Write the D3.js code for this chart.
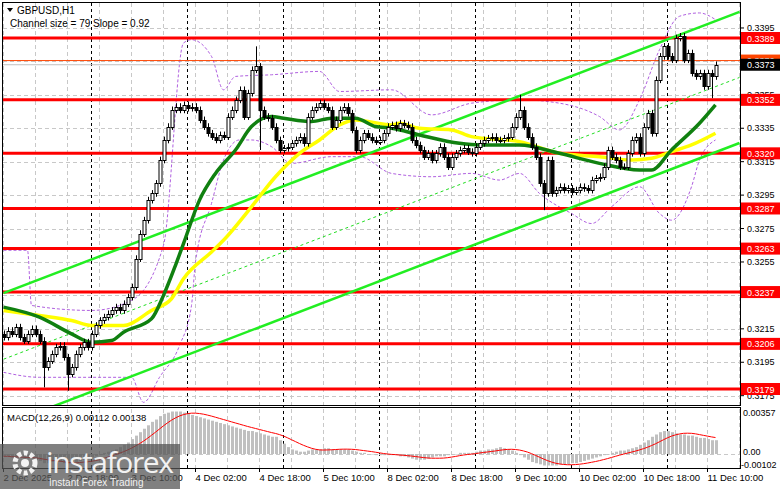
<!DOCTYPE html>
<html><head><meta charset="utf-8">
<script src="https://cdn.jsdelivr.net/npm/d3@7"></script>
<style>body{margin:0;background:#fff}svg{display:block;font-family:"Liberation Sans",Arial,sans-serif}</style>
</head><body>
<script>
// prices in pips: 3373 means 1.3373
var closes = [3210,3214,3212,3216,3210,3208,3212,3215,3212,3208,
 3192,3196,3200,3204,3205,3198,3188,3192,3200,3204,
 3207,3204,3212,3217,3220,3222,3224,3226,3228,3226,
 3230,3234,3240,3257,3272,3280,3292,3296,3302,3316,
 3328,3336,3346,3348,3346,3349,3347,3348,3346,3340,
 3336,3332,3330,3328,3331,3330,3342,3346,3352,3358,
 3342,3356,3370,3372,3346,3342,3341,3336,3328,3322,
 3323,3324,3326,3328,3330,3326,3342,3346,3348,3350,
 3348,3346,3336,3340,3346,3348,3344,3334,3322,3328,
 3332,3330,3328,3327,3328,3332,3336,3337,3335,3338,
 3337,3336,3328,3325,3322,3318,3320,3316,3320,3324,
 3318,3312,3318,3320,3322,3323,3321,3320,3324,3326,
 3328,3329,3330,3328,3328,3329,3330,3336,3342,3346,
 3336,3330,3324,3318,3302,3296,3316,3296,3298,3300,
 3298,3299,3297,3298,3300,3299,3298,3304,3305,3306,
 3312,3322,3318,3316,3312,3312,3320,3328,3330,3320,
 3336,3344,3332,3364,3378,3384,3378,3376,3389,3390,
 3376,3380,3368,3366,3368,3360,3368,3366,3373];
var firstOpen = 3212;
var spikes = {10:{l:3180},16:{l:3178},63:{h:3384},64:{l:3322},129:{h:3355},135:{l:3286},169:{h:3392},177:{l:3353}};

var greenMA = [[0,3228],[9,3222],[17,3212],[22,3207],[27,3208],[30,3213],[37,3221],[40,3235],[43,3253],[45,3266],[49,3292],[53,3308],[58,3322],[62,3336],[67,3342],[70,3341],[77,3339],[82,3341],[88,3341],[93,3336],[97,3335],[104,3331],[114,3326],[119,3325],[129,3325],[139,3320],[149,3314],[159,3310],[162,3310],[167,3322],[174,3338],[178,3349]];
var yellowMA = [[0,3226],[9,3223],[17,3220],[22,3217],[27,3217],[30,3217],[37,3226],[42,3233],[45,3245],[52,3261],[55,3268],[62,3288],[68,3306],[74,3320],[79,3328],[84,3337],[88,3340],[97,3337],[99,3338],[104,3335],[112,3334],[117,3330],[129,3327],[139,3320],[149,3318],[157,3316],[162,3317],[167,3321],[172,3325],[178,3332]];
var bbUpper = [[0,3262],[6,3262],[7,3229],[22,3226],[32,3232],[40,3265],[45,3386],[47,3388],[52,3378],[55,3358],[58,3366],[67,3367],[79,3369],[84,3357],[97,3358],[107,3343],[117,3350],[129,3352],[139,3350],[149,3342],[154,3334],[159,3352],[164,3382],[169,3402],[174,3404],[178,3400]];
var bbLower = [[0,3189],[9,3186],[22,3186],[32,3186],[35,3171],[39,3186],[44,3205],[47,3229],[48,3255],[52,3290],[55,3316],[59,3328],[62,3328],[67,3324],[72,3314],[82,3318],[89,3318],[97,3308],[107,3306],[117,3308],[124,3304],[129,3308],[134,3296],[142,3284],[147,3278],[152,3288],[159,3300],[164,3284],[167,3280],[172,3300],[174,3316],[178,3328]];
var channelUpper = [[0,3236.4],[184,3404.6]];
var channelLower = [[0,3157.2],[184,3326.2]];
var channelMid = [[0,3196.8],[184,3365.4]];

var levels = [3389,3352,3320,3287,3263,3237,3206,3179];
var yTicks = [3395,3375,3355,3335,3315,3295,3275,3255,3235,3215,3195,3175];
var xLabels = [[0,"2 Dec 2025"],[16,"2 Dec 18:00"],[32,"3 Dec 10:00"],[48,"4 Dec 02:00"],[64,"4 Dec 18:00"],[80,"5 Dec 10:00"],[96,"8 Dec 02:00"],[112,"8 Dec 18:00"],[128,"9 Dec 10:00"],[144,"10 Dec 02:00"],[160,"10 Dec 18:00"],[176,"11 Dec 10:00"]];
var daySeps = [22,46,70,94,118,142,166];
// MACD main (histogram) in units of 0.0001
var macdHist = [-2,-2,-3,-3,-3,-4,-4,-4,-5,-6,
 -8,-8,-7,-7,-7,-8,-9,-8,-7,-6,
 -5,-4,-3,-2,-1,1,2,3,4,6,
 8,10,13,16,19,22,25,28,30,33,
 35,36,37,37,37,36,35,34,33,32,
 31,30,29,28,27,26,25,24,23,22,
 21,20,20,19,18,17,16,15,15,12,
 9,6,4,3,2,2,3,4,4,4,
 5,5,4,4,4,4,4,3,2,1,
 1,0,0,-1,-1,-1,-1,-1,-1,-2,
 -2,-3,-4,-5,-5,-5,-4,-3,-2,-2,
 -2,-1,0,0,1,1,1,1,2,3,
 3,4,4,5,6,5,4,3,1,-1,
 -3,-5,-7,-8,-9,-10,-10,-10,-10,-9,
 -9,-9,-8,-8,-7,-6,-5,-4,-3,-2,
 -1,0,1,2,3,3,4,5,6,8,
 10,12,15,17,19,20,20,19,18,17,
 17,16,16,15,14,14,13,12,12];

var W = 781, H = 489, L = 3, R = 740, T = 3, MB = 405, MT = 408, BB = 468;
var svg = d3.select("body").append("svg").attr("width", W).attr("height", H);
var x = d3.scaleLinear().domain([0, 1]).range([3.5, 7.5]);
var y = d3.scaleLinear().domain([3179, 3389]).range([389, 38]);
var ym = d3.scaleLinear().domain([0, 35.7]).range([454, 413]);
var fmt = function(p) { return (p / 10000).toFixed(4); };

var clipM = svg.append("clipPath").attr("id", "cm");
clipM.append("rect").attr("x", L).attr("y", T).attr("width", R - L).attr("height", MB - T);
var clipD = svg.append("clipPath").attr("id", "cd");
clipD.append("rect").attr("x", L).attr("y", MT).attr("width", R - L).attr("height", BB - MT);

// grid
var grid = svg.append("g").attr("stroke", "#c8c8c8").attr("stroke-dasharray", "4,3");
yTicks.forEach(function(t) {
  grid.append("line").attr("x1", L).attr("x2", R).attr("y1", Math.round(y(t)) + 0.5).attr("y2", Math.round(y(t)) + 0.5);
});
grid.append("line").attr("x1", L).attr("x2", R).attr("y1", 454.5).attr("y2", 454.5);
d3.range(0, 185, 8).forEach(function(i) {
  if (daySeps.indexOf(i) >= 0) return;
  grid.append("line").attr("x1", x(i)).attr("x2", x(i)).attr("y1", T).attr("y2", BB);
});
var sep = svg.append("g").attr("stroke", "#000").attr("stroke-dasharray", "3,3");
daySeps.forEach(function(i) {
  sep.append("line").attr("x1", x(i)).attr("x2", x(i)).attr("y1", T).attr("y2", BB);
});

var g = svg.append("g").attr("clip-path", "url(#cm)");
var line = d3.line().x(function(d) { return x(d[0]); }).y(function(d) { return y(d[1]); });
var curve = d3.line().x(function(d) { return x(d[0]); }).y(function(d) { return y(d[1]); }).curve(d3.curveMonotoneX);

// bollinger
[bbUpper, bbLower].forEach(function(b) {
  g.append("path").attr("d", curve(b)).attr("fill", "none").attr("stroke", "#b060e0").attr("stroke-width", 1).attr("stroke-dasharray", "3,2");
});
// levels
g.append("line").attr("x1", L).attr("x2", R).attr("y1", y(3373)).attr("y2", y(3373)).attr("stroke", "#c0c0c0");
g.append("line").attr("x1", L).attr("x2", R).attr("y1", y(3375.5)).attr("y2", y(3375.5)).attr("stroke", "#ff4500");
levels.forEach(function(l) {
  g.append("line").attr("x1", L).attr("x2", R).attr("y1", y(l)).attr("y2", y(l)).attr("stroke", "#ff0000").attr("stroke-width", 3);
});
// channel
[channelUpper, channelLower].forEach(function(c) {
  g.append("path").attr("d", line(c)).attr("stroke", "#22ee22").attr("stroke-width", 2.5).attr("fill", "none");
});
g.append("path").attr("d", line(channelMid)).attr("stroke", "#22dd22").attr("stroke-width", 1).attr("stroke-dasharray", "3,3").attr("fill", "none");
// moving averages
g.append("path").attr("d", curve(yellowMA)).attr("stroke", "#ffff00").attr("stroke-width", 3.5).attr("fill", "none");
g.append("path").attr("d", curve(greenMA)).attr("stroke", "#108010").attr("stroke-width", 3.5).attr("fill", "none");

// candles
closes.forEach(function(c, i) {
  var o = i === 0 ? firstOpen : closes[i - 1];
  var s = spikes[i] || {};
  var hi = s.h || Math.max(o, c) + 2, lo = s.l || Math.min(o, c) - 2;
  var cx = Math.round(x(i)) + 0.5;
  g.append("line").attr("x1", cx).attr("x2", cx).attr("y1", y(hi)).attr("y2", y(lo)).attr("stroke", "#000");
  var top = Math.round(y(Math.max(o, c))), bot = Math.round(y(Math.min(o, c)));
  g.append("rect").attr("x", cx - 1.5).attr("y", top + 0.5).attr("width", 3).attr("height", Math.max(bot - top, 1))
    .attr("fill", c >= o ? "#fff" : "#000").attr("stroke", "#000");
});

// MACD
var gd = svg.append("g").attr("clip-path", "url(#cd)");
macdHist.forEach(function(v, i) {
  gd.append("rect").attr("x", Math.round(x(i)) - 1).attr("width", 3)
    .attr("y", Math.min(ym(v), ym(0))).attr("height", Math.max(Math.abs(ym(v) - ym(0)), 0.5)).attr("fill", "#c0c0c0");
});
var signal = macdHist.map(function(v, i) {
  var w = macdHist.slice(Math.max(0, i - 8), i + 1);
  return [i, d3.mean(w)];
});
gd.append("path").attr("d", d3.line().x(function(d) { return x(d[0]); }).y(function(d) { return ym(d[1]); })(signal))
  .attr("fill", "none").attr("stroke", "#ff0000").attr("stroke-width", 1);

// frames
svg.append("rect").attr("x", L - 0.5).attr("y", T - 0.5).attr("width", R - L + 1).attr("height", MB - T + 1).attr("fill", "none").attr("stroke", "#000");
svg.append("rect").attr("x", L - 0.5).attr("y", MT - 0.5).attr("width", R - L + 1).attr("height", BB - MT + 1).attr("fill", "none").attr("stroke", "#000");

// right axis
var ax = svg.append("g").attr("font-size", 9).attr("fill", "#000");
yTicks.forEach(function(t) {
  ax.append("line").attr("x1", R).attr("x2", R + 4).attr("y1", y(t)).attr("y2", y(t)).attr("stroke", "#000");
  ax.append("text").attr("x", R + 7).attr("y", y(t) + 3).text(fmt(t));
});
function tag(p, bg, fg) {
  ax.append("rect").attr("x", R + 1).attr("y", y(p) - 6).attr("width", 39).attr("height", 12).attr("fill", bg);
  ax.append("text").attr("x", R + 7).attr("y", y(p) + 3.5).attr("fill", fg).text(fmt(p));
}
tag(3375.5, "#ff4500", "#fff");
tag(3373, "#000", "#fff");
levels.forEach(function(l) { tag(l, "#ff0000", "#fff"); });
ax.append("text").attr("x", R + 3).attr("y", ym(35.7) + 3).text("0.00357");
ax.append("text").attr("x", R + 3).attr("y", ym(0) + 1).text("0.00");
ax.append("text").attr("x", R + 1).attr("y", ym(-10.2) + 2).text("-0.00102");

// time axis
xLabels.forEach(function(d) {
  svg.append("line").attr("x1", x(d[0])).attr("x2", x(d[0])).attr("y1", BB).attr("y2", BB + 4).attr("stroke", "#000");
  svg.append("text").attr("x", x(d[0])).attr("y", 481).attr("font-size", 9.5).text(d[1]);
});

// titles
svg.append("path").attr("d", "M7,8 L13,8 L10,12 Z").attr("fill", "#000");
svg.append("text").attr("x", 17).attr("y", 14).attr("font-size", 10).text("GBPUSD,H1");
svg.append("text").attr("x", 10).attr("y", 27).attr("font-size", 10).text("Channel size = 79 Slope = 0.92");
svg.append("text").attr("x", 7).attr("y", 421).attr("font-size", 9.5).text("MACD(12,26,9) 0.00112 0.00138");

// logo
var logo = svg.append("g");
logo.append("rect").attr("x", 0).attr("y", 444).attr("width", 180).attr("height", 45).attr("fill", "#555").attr("opacity", 0.75);
logo.append("circle").attr("cx", 25).attr("cy", 463).attr("r", 10).attr("fill", "none").attr("stroke", "#fff").attr("stroke-width", 5).attr("stroke-dasharray", "4,2.5").attr("opacity", 0.9);
logo.append("circle").attr("cx", 25).attr("cy", 463).attr("r", 4).attr("fill", "#fff").attr("opacity", 0.9);
logo.append("text").attr("x", 46).attr("y", 473).attr("font-size", 30).attr("fill", "#fff").attr("opacity", 0.9).attr("font-family", "Open Sans, sans-serif").attr("textLength", 128).text("instaforex");
logo.append("text").attr("x", 49).attr("y", 486).attr("font-size", 10).attr("fill", "#fff").attr("opacity", 0.9).text("Instant Forex Trading");
</script>
</body></html>
